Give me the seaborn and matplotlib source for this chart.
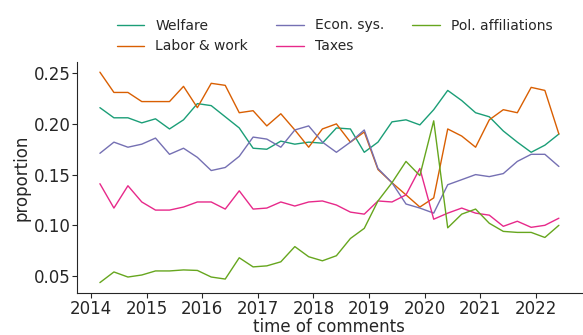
import matplotlib
matplotlib.use("Agg")
import matplotlib.pyplot as plt
import matplotlib.dates as mdates
import numpy as np
import pandas as pd
import seaborn as sns

# Quarterly share of comments per topic
periods = pd.date_range("2014-03-01", periods=34, freq="3MS")

welfare = [0.216, 0.206, 0.206, 0.201, 0.205, 0.195, 0.204, 0.220, 0.218, 0.207,
           0.196, 0.176, 0.175, 0.183, 0.180, 0.182, 0.181, 0.196, 0.195, 0.172,
           0.182, 0.202, 0.204, 0.199, 0.214, 0.233, 0.223, 0.211, 0.207, 0.193,
           0.182, 0.172, 0.179, 0.190]
labor = [0.251, 0.231, 0.231, 0.222, 0.222, 0.222, 0.237, 0.216, 0.240, 0.238,
         0.211, 0.213, 0.198, 0.210, 0.194, 0.177, 0.195, 0.200, 0.182, 0.192,
         0.155, 0.142, 0.130, 0.118, 0.127, 0.195, 0.188, 0.177, 0.204, 0.214,
         0.211, 0.236, 0.233, 0.190]
econ = [0.171, 0.182, 0.177, 0.180, 0.186, 0.170, 0.176, 0.167, 0.154, 0.157,
        0.168, 0.187, 0.185, 0.177, 0.194, 0.198, 0.182, 0.172, 0.182, 0.194,
        0.156, 0.142, 0.121, 0.117, 0.112, 0.140, 0.145, 0.150, 0.148, 0.151,
        0.163, 0.170, 0.170, 0.158]
taxes = [0.141, 0.117, 0.139, 0.123, 0.115, 0.115, 0.118, 0.123, 0.123, 0.116,
         0.134, 0.116, 0.117, 0.123, 0.119, 0.123, 0.124, 0.120, 0.113, 0.111,
         0.124, 0.123, 0.130, 0.156, 0.106, 0.112, 0.117, 0.112, 0.110, 0.099,
         0.104, 0.098, 0.100, 0.107]
pol = [0.0435, 0.054, 0.049, 0.051, 0.055, 0.055, 0.056, 0.0555, 0.049, 0.047,
       0.068, 0.059, 0.060, 0.064, 0.079, 0.069, 0.065, 0.070, 0.087, 0.097,
       0.124, 0.142, 0.163, 0.149, 0.203, 0.0975, 0.111, 0.116, 0.102, 0.094,
       0.093, 0.093, 0.088, 0.100]

topics = ["Welfare", "Labor & work", "Econ. sys.", "Taxes", "Pol. affiliations"]
series = [welfare, labor, econ, taxes, pol]

df = pd.concat(
    [pd.DataFrame({"time": periods, "proportion": vals, "topic": name})
     for name, vals in zip(topics, series)],
    ignore_index=True,
)

sns.set_style("ticks")
plt.rcParams["font.family"] = ["DejaVu Sans"]

fig = plt.figure(figsize=(5.83, 3.35), dpi=100)
ax = fig.add_axes([0.132, 0.125, 0.866, 0.691])

sns.lineplot(data=df, x="time", y="proportion", hue="topic", hue_order=topics,
             palette="Dark2", linewidth=1.0, ax=ax, legend=True)

ax.xaxis.set_major_locator(mdates.YearLocator())
ax.xaxis.set_major_formatter(mdates.DateFormatter("%Y"))
ax.set_yticks([0.05, 0.10, 0.15, 0.20, 0.25])
ax.tick_params(labelsize=12, pad=1.2)
ax.set_xlabel("time of comments", fontsize=12, labelpad=0)
ax.set_ylabel("proportion", fontsize=12, labelpad=2.5)
sns.despine(ax=ax)

handles, labels = ax.get_legend_handles_labels()
ax.get_legend().remove()
fig.legend(handles, labels, ncol=3, frameon=False, fontsize=10,
           loc="upper left", bbox_to_anchor=(104 / 583, 1 - 6 / 335))

fig.savefig("out.png", dpi=100)
